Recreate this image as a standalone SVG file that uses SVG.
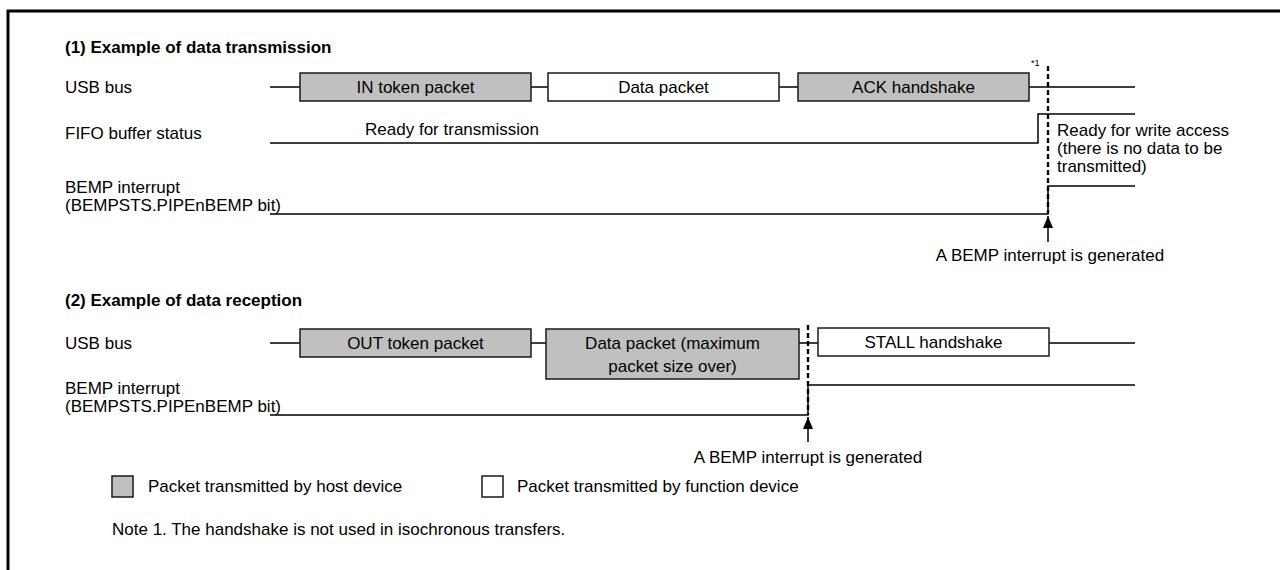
<svg xmlns="http://www.w3.org/2000/svg" width="1280" height="570" viewBox="0 0 1280 570">
<style>
.t{font-family:"Liberation Sans",Arial,sans-serif;font-size:17px;fill:#000}
.b{font-weight:bold}
.m{text-anchor:middle}
.sup{font-size:9px}
.box{stroke:#1a1a1a;stroke-width:1.5}
.host{fill:#c0c0c0}
.func{fill:#fff}
.ln{stroke:#000;stroke-width:1.5;fill:none}
.dash{stroke:#000;stroke-width:2.4;stroke-dasharray:5 3;fill:none}
.frame{stroke:#000;stroke-width:3;fill:none}
</style>
<defs>
<marker id="ah" markerUnits="userSpaceOnUse" markerWidth="12" markerHeight="10" refX="12" refY="5" orient="auto" viewBox="0 0 12 10">
<path d="M0,0 L12,5 L0,10 Z" fill="#000"/>
</marker>
</defs>
<rect width="1280" height="570" fill="#fff"/>
<path class="frame" d="M8,570 V11 H1280"/>

<g id="section1-title"><text class="t b" x="65" y="53">(1) Example of data transmission</text></g>
<g id="s1-labels">
<text class="t" x="65" y="93">USB bus</text>
<text class="t" x="65" y="139">FIFO buffer status</text>
<text class="t" x="65" y="193">BEMP interrupt</text>
<text class="t" x="65" y="211">(BEMPSTS.PIPEnBEMP bit)</text>
</g>

<g id="connectors">
<path class="ln" d="M270,87 H300 M531,87 H548 M779,87 H798 M1029,87 H1135"/>
<path class="ln" d="M270,143 H1038 V114 H1135"/>
<path class="ln" d="M270,214 H1048 V186 H1135"/>
<path class="dash" d="M1048,66 V214"/>
<path class="ln" d="M1048,242 V216" marker-end="url(#ah)"/>
<path class="ln" d="M270,343 H300 M531,343 H546 M799,343 H818 M1049,343 H1135"/>
<path class="ln" d="M270,415 H808 V385 H1135"/>
<path class="dash" d="M808,325 V415"/>
<path class="ln" d="M808,442 V417" marker-end="url(#ah)"/>
</g>

<g id="in-token"><rect class="box host" x="300" y="73" width="231" height="28"/><text class="t m" x="415.5" y="93">IN token packet</text></g>
<g id="data-packet"><rect class="box func" x="548" y="73" width="231" height="28"/><text class="t m" x="663.5" y="93">Data packet</text></g>
<g id="ack"><rect class="box host" x="798" y="73" width="231" height="28"/><text class="t m" x="913.5" y="93">ACK handshake</text><text class="t sup" x="1031" y="66">*1</text></g>

<g id="fifo-texts">
<text class="t m" x="452" y="135">Ready for transmission</text>
<text class="t" x="1057" y="136">Ready for write access</text>
<text class="t" x="1057" y="154">(there is no data to be</text>
<text class="t" x="1057" y="172">transmitted)</text>
</g>
<g id="bemp1-note"><text class="t m" x="1050" y="261">A BEMP interrupt is generated</text></g>

<g id="section2-title"><text class="t b" x="65" y="306">(2) Example of data reception</text></g>
<g id="s2-labels">
<text class="t" x="65" y="349">USB bus</text>
<text class="t" x="65" y="394">BEMP interrupt</text>
<text class="t" x="65" y="412">(BEMPSTS.PIPEnBEMP bit)</text>
</g>

<g id="out-token"><rect class="box host" x="300" y="329" width="231" height="28"/><text class="t m" x="415.5" y="349">OUT token packet</text></g>
<g id="data-over"><rect class="box host" x="546" y="329" width="253" height="50"/><text class="t m" x="672.5" y="349">Data packet (maximum</text><text class="t m" x="672.5" y="372">packet size over)</text></g>
<g id="stall"><rect class="box func" x="818" y="328" width="231" height="28"/><text class="t m" x="933.5" y="348">STALL handshake</text></g>
<g id="bemp2-note"><text class="t m" x="808" y="463">A BEMP interrupt is generated</text></g>

<g id="legend">
<rect class="box host" x="112" y="476" width="21" height="21"/>
<text class="t" x="148" y="492">Packet transmitted by host device</text>
<rect class="box func" x="482" y="476" width="21" height="21"/>
<text class="t" x="517" y="492">Packet transmitted by function device</text>
</g>
<g id="note"><text class="t" x="112" y="535">Note 1. The handshake is not used in isochronous transfers.</text></g>
</svg>
